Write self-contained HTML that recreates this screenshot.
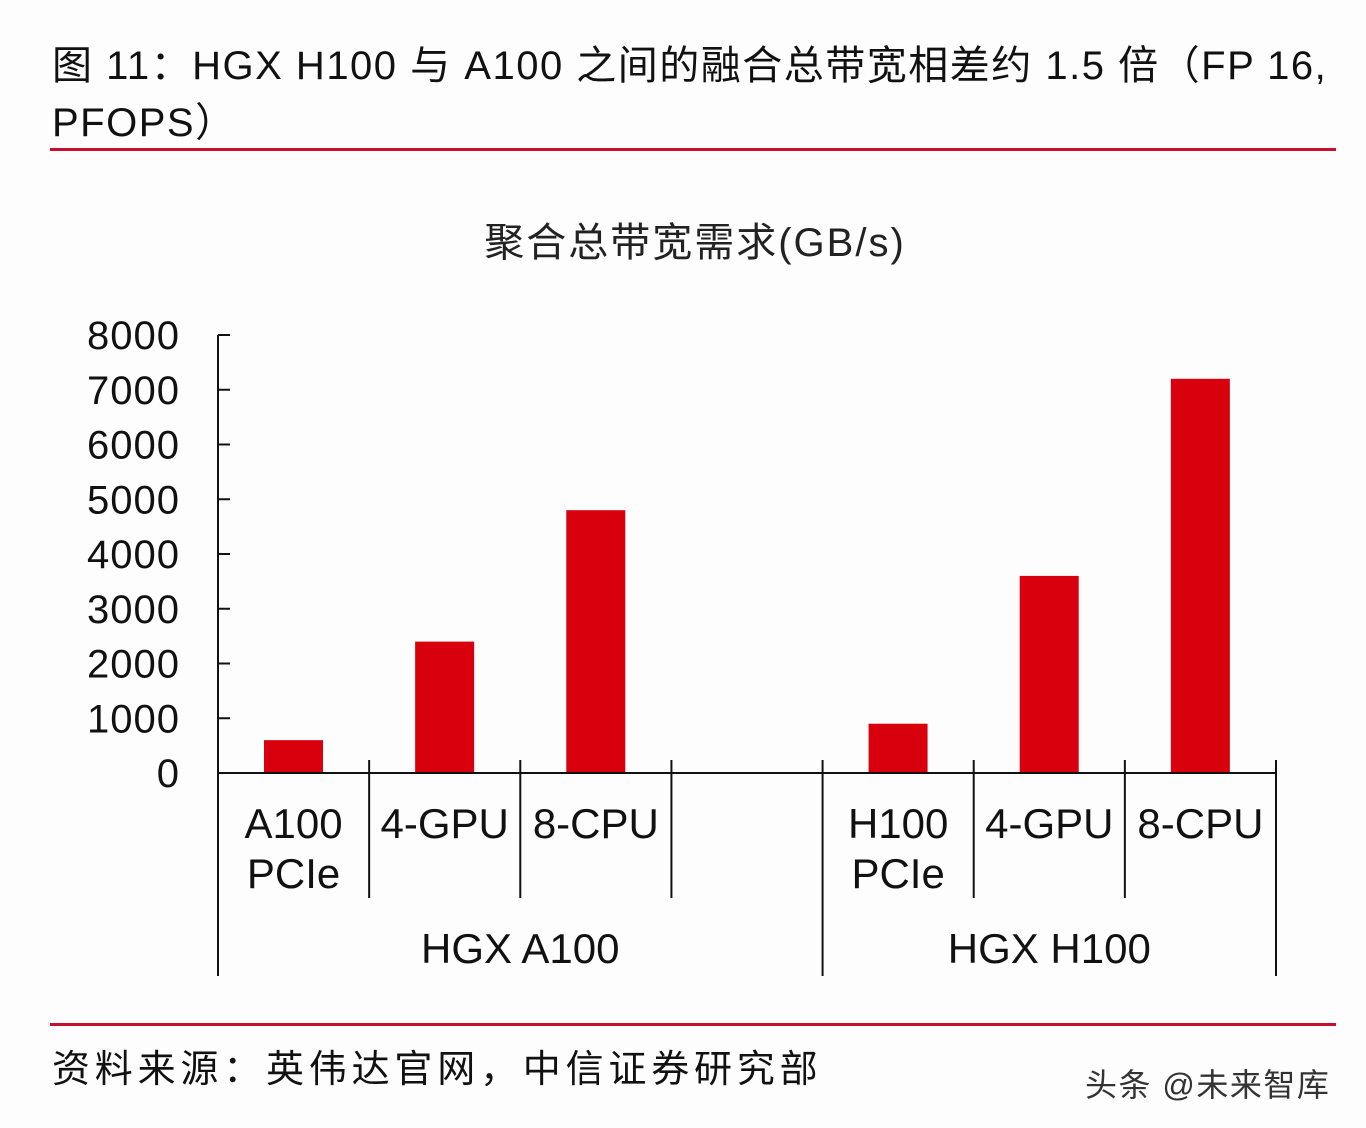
<!DOCTYPE html>
<html><head><meta charset="utf-8"><style>
body{margin:0;background:#fff;}
#root{position:relative;width:1366px;height:1128px;background:#fdfdfe;font-family:"Liberation Sans","Noto Sans CJK SC",sans-serif;color:#111;overflow:hidden}
.t{position:absolute;white-space:nowrap}
</style></head><body>
<div id="root">
<div class="t" style="left:52px;top:38px;font-size:40px;letter-spacing:1.5px;line-height:57px">图 11：HGX H100 与 A100 之间的融合总带宽相差约 1.5 倍（FP 16,<br>PFOPS）</div>
<div style="position:absolute;left:50px;top:148px;width:1286px;height:3px;background:#c8102e"></div>
<svg id="chart" width="1366" height="1000" style="position:absolute;left:0;top:0"></svg>
<div style="position:absolute;left:50px;top:1023px;width:1286px;height:3px;background:#c8102e"></div>
<div class="t" style="left:52px;top:1038px;font-size:38px;letter-spacing:4.8px">资料来源：英伟达官网，中信证券研究部</div>
<div class="t" style="left:1085px;top:1060px;font-size:32px;letter-spacing:1.5px;color:#333">头条 @未来智库</div>
</div>
<script>
const categories=["A100\nPCIe","4-GPU","8-CPU","","H100\nPCIe","4-GPU","8-CPU"];
const values=[600,2400,4800,null,900,3600,7200];
const groups=["HGX A100","HGX H100"];
const groupSpans=[[0,4],[4,7]];
const yTicks=[0,1000,2000,3000,4000,5000,6000,7000,8000];
const NS="http://www.w3.org/2000/svg";
const svg=document.getElementById('chart');
const x0=218,x1=1276,y0=773,yTop=335,ymax=8000;
const slot=(x1-x0)/categories.length;
const y=v=>y0-(v/ymax)*(y0-yTop);
const xs=i=>x0+i*slot;
function mk(tag,attrs){const e=document.createElementNS(NS,tag);for(const k in attrs)e.setAttribute(k,attrs[k]);svg.appendChild(e);return e;}
let t=mk('text',{x:695,y:256,'text-anchor':'middle','font-size':40,'letter-spacing':2,fill:'#222'});


t.textContent='聚合总带宽需求(GB/s)';
let ax=mk('line',{x1:x0,y1:yTop,x2:x0,y2:y0,stroke:'#111','stroke-width':2});


yTicks.forEach(v=>{
 const l=mk('line',{x1:x0,x2:x0+12,y1:y(v),y2:y(v),stroke:'#111','stroke-width':2});
 
 
 const tx=mk('text',{x:180,y:y(v)+14,'text-anchor':'end','font-size':40,'letter-spacing':1,fill:'#111'});
 
 
 tx.textContent=v;
});
values.forEach((v,i)=>{
 if(v==null)return;
 const b=mk('rect',{x:xs(i)+46,y:y(v),width:59,height:y0-y(v),fill:'#d9000d'});
 
 
});
let xa=mk('line',{x1:x0,x2:x1,y1:y0,y2:y0,stroke:'#111','stroke-width':2});


for(let i=0;i<=categories.length;i++){
 const isG=groupSpans.some(s=>s[0]===i||s[1]===i);
 const d=mk('line',{x1:xs(i),x2:xs(i),y1:760,y2:isG?976:898,stroke:'#111','stroke-width':2});
 
 
}
categories.forEach((c,i)=>{
 const lines=c.split('\n');
 lines.forEach((ln,j)=>{
  if(!ln)return;
  const tx=mk('text',{x:xs(i)+slot/2,y:838+j*50,'text-anchor':'middle','font-size':42,fill:'#111'});
  
  
  tx.textContent=ln;
 });
});
groups.forEach((g,k)=>{
 const [a,b]=groupSpans[k];
 const tx=mk('text',{x:(xs(a)+xs(b))/2,y:963,'text-anchor':'middle','font-size':42,fill:'#111'});
 
 
 tx.textContent=g;
});
</script>
</body></html>
